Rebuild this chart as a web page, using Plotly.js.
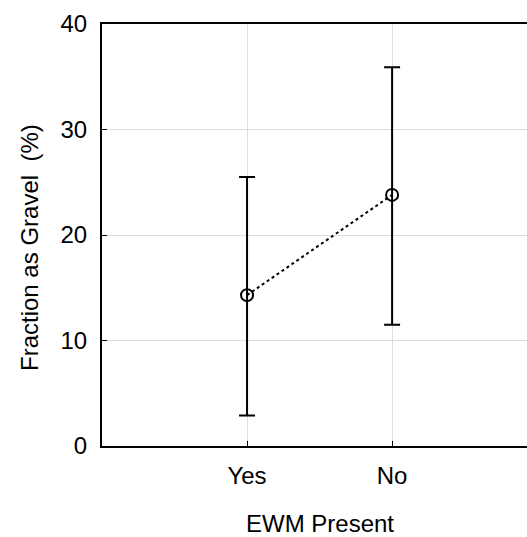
<!DOCTYPE html>
<html>
<head>
<meta charset="utf-8">
<script src="https://cdn.plot.ly/plotly-3.0.1.min.js"></script>
<style>html,body{margin:0;padding:0;background:#fff;}#chart{width:527px;height:537px;}</style>
</head>
<body>
<div id="chart"></div>
<script>
const categories = ["Yes", "No"];
const means = [14.3, 23.8];
const upperErr = [11.2, 12.1];
const lowerErr = [11.4, 12.3];
const yTicks = [0, 10, 20, 30, 40];
const xTitle = 'EWM Present';
const yTitle = 'Fraction as Gravel\u00a0 (%)';

const fontFamily = '"Liberation Sans", Arial, sans-serif';

const trace = {
  type: 'scatter',
  mode: 'lines+markers',
  x: categories,
  y: means,
  line: {color: '#000', width: 2, dash: 'dot'},
  marker: {symbol: 'circle-open', size: 12, color: '#000', line: {width: 2, color: '#000'}},
  error_y: {type: 'data', symmetric: false, array: upperErr, arrayminus: lowerErr,
            color: '#000', thickness: 2, width: 8},
  showlegend: false,
  cliponaxis: false
};

const layout = {
  width: 527, height: 537,
  margin: {l: 102, r: 0, t: 24, b: 91},
  paper_bgcolor: '#fff', plot_bgcolor: '#fff',
  font: {family: fontFamily, color: '#000', size: 24},
  xaxis: {
    type: 'category',
    range: [-1, 1.93],
    tickvals: categories, ticktext: categories,
    showline: true, linecolor: '#000', linewidth: 2, mirror: true,
    ticks: 'inside', ticklen: 5, tickwidth: 1, tickcolor: '#000',
    showgrid: true, gridcolor: '#dddddd', gridwidth: 1,
    zeroline: false,
    tickfont: {size: 24, family: fontFamily},
    ticklabelstandoff: 7
  },
  yaxis: {
    range: [0, 40],
    tickvals: yTicks,
    showline: true, linecolor: '#000', linewidth: 2, mirror: false,
    ticks: 'inside', ticklen: 5, tickwidth: 1, tickcolor: '#000',
    showgrid: true, gridcolor: '#dddddd', gridwidth: 1,
    zeroline: false,
    tickfont: {size: 24, family: fontFamily},
    ticklabelstandoff: 8
  },
  annotations: [
    {text: xTitle, xref: 'paper', yref: 'paper', x: (320 - 102) / 425, y: (446 - 523) / 422,
     xanchor: 'center', yanchor: 'middle', showarrow: false, font: {size: 24, family: fontFamily}},
    {text: yTitle, xref: 'paper', yref: 'paper', x: (30 - 102) / 425, y: (446 - 248) / 422,
     xanchor: 'center', yanchor: 'middle', textangle: -90, showarrow: false, font: {size: 24, family: fontFamily}}
  ]
};

Plotly.newPlot('chart', [trace], layout, {displayModeBar: false, staticPlot: true});
</script>
</body>
</html>
